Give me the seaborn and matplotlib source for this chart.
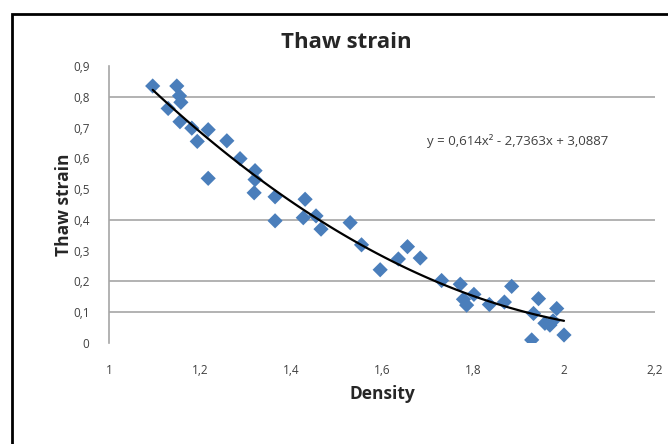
import matplotlib
matplotlib.use("Agg")
import numpy as np
import pandas as pd
import matplotlib.pyplot as plt
import seaborn as sns

# values
density = [1.096, 1.149, 1.155, 1.158, 1.130, 1.156, 1.182, 1.218, 1.194, 1.259,
           1.218, 1.288, 1.321, 1.321, 1.319, 1.365, 1.431, 1.365, 1.427, 1.455,
           1.466, 1.530, 1.555, 1.596, 1.636, 1.656, 1.684, 1.731, 1.772, 1.779,
           1.786, 1.802, 1.836, 1.869, 1.885, 1.929, 1.933, 1.944, 1.958, 1.969,
           1.984, 1.976, 2.000]
thaw_strain = [0.835, 0.835, 0.803, 0.782, 0.762, 0.719, 0.698, 0.693, 0.655, 0.657,
               0.535, 0.599, 0.560, 0.531, 0.488, 0.475, 0.467, 0.397, 0.407, 0.413,
               0.370, 0.391, 0.319, 0.238, 0.273, 0.313, 0.276, 0.203, 0.191, 0.142,
               0.123, 0.158, 0.125, 0.133, 0.184, 0.010, 0.096, 0.144, 0.064, 0.058,
               0.112, 0.072, 0.026]
equation = "y = 0,614x² - 2,7363x + 3,0887"

x_ticks = [1.0, 1.2, 1.4, 1.6, 1.8, 2.0, 2.2]
x_tick_labels = ["1", "1,2", "1,4", "1,6", "1,8", "2", "2,2"]
y_ticks = [0.0, 0.1, 0.2, 0.3, 0.4, 0.5, 0.6, 0.7, 0.8, 0.9]
y_tick_labels = ["0", "0,1", "0,2", "0,3", "0,4", "0,5", "0,6", "0,7", "0,8", "0,9"]
grid_levels = [0.1, 0.2, 0.4, 0.8]  # the only gridlines that survive in the picture

df = pd.DataFrame({"Density": density, "Thaw strain": thaw_strain})

sns.set_theme(style="white")
plt.rcParams["font.family"] = ["Open Sans", "DejaVu Sans"]

fig = plt.figure(figsize=(6.68, 4.44), dpi=100)
ax = fig.add_axes([109 / 668, 1 - 343 / 444, (655 - 109) / 668, (343 - 66) / 444])

for lvl in grid_levels:
    ax.axhline(lvl, color="#a6a6a6", linewidth=1.2, zorder=0)

sns.scatterplot(x="Density", y="Thaw strain", data=df, ax=ax, marker="D",
                color="#4a7ebb", s=60, edgecolor="none", zorder=3)
sns.regplot(x="Density", y="Thaw strain", data=df, ax=ax, order=2, ci=None,
            scatter=False, color="black", line_kws={"linewidth": 1.6, "zorder": 4})

ax.set_xlim(1.0, 2.2)
ax.set_ylim(0.0, 0.9)
ax.set_xticks(x_ticks)
ax.set_xticklabels(x_tick_labels)
ax.set_yticks(y_ticks)
ax.set_yticklabels(y_tick_labels)
ax.tick_params(axis="both", length=0, labelsize=8.5, colors="#404040")
ax.tick_params(axis="x", pad=15)
ax.tick_params(axis="y", pad=14)

for side in ["top", "right", "bottom"]:
    ax.spines[side].set_visible(False)
ax.spines["left"].set_color("#a6a6a6")
ax.spines["left"].set_linewidth(1.2)

ax.set_xlabel("Density", fontsize=12.5, fontweight="bold", labelpad=6)
ax.set_ylabel("Thaw strain", fontsize=12.5, fontweight="bold", labelpad=0)
fig.text(346 / 668, 1 - 42 / 444, "Thaw strain", fontsize=16, fontweight="bold",
         ha="center", va="center")

ax.text(1.70, 0.655, equation, fontsize=9.5, color="#404040", va="center")

# outer chart frame, cut off at right and bottom like the reference
fig.add_artist(plt.Rectangle((12 / 668, -0.1), 1.2, 1.1 - 14 / 444, fill=False,
                             edgecolor="black", linewidth=2, transform=fig.transFigure))

fig.savefig("out.png", dpi=100)
